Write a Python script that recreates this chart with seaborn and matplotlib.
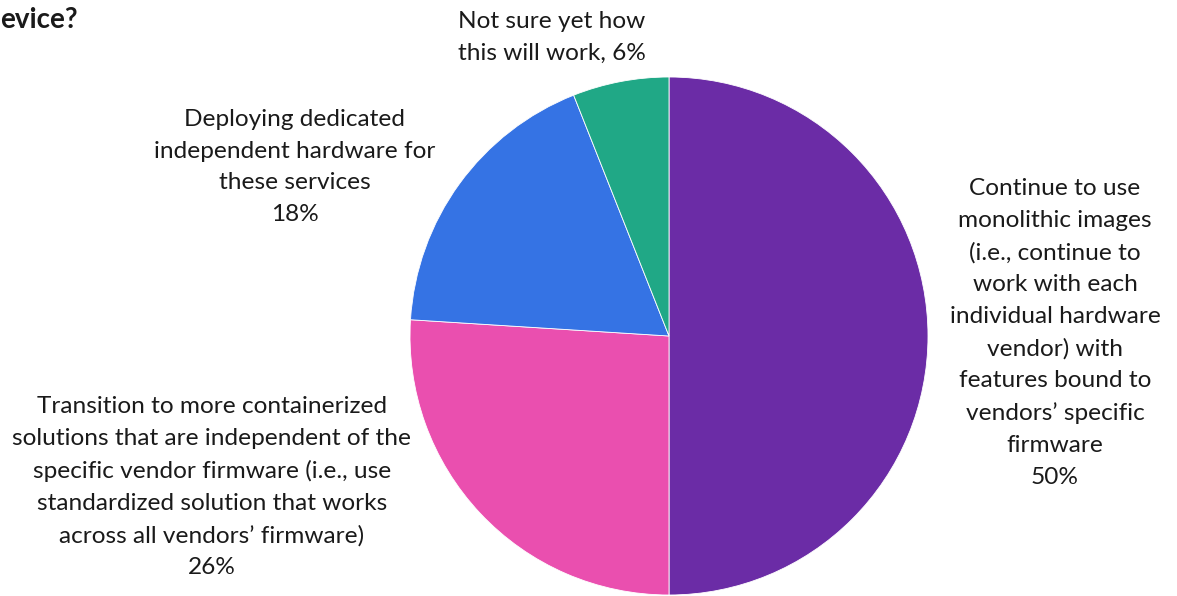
import matplotlib
matplotlib.use("Agg")
import matplotlib.pyplot as plt
import seaborn as sns

# Survey responses, clockwise from 12 o'clock
categories = [
    "Continue to use\nmonolithic images\n(i.e., continue to\nwork with each\nindividual hardware\nvendor) with\nfeatures bound to\nvendors\u2019 specific\nfirmware",
    "Transition to more containerized\nsolutions that are independent of the\nspecific vendor firmware (i.e., use\nstandardized solution that works\nacross all vendors\u2019 firmware)",
    "Deploying dedicated\nindependent hardware for\nthese services",
    "Not sure yet how\nthis will work",
]
shares = [50, 26, 18, 6]
colors = ["#6B2CA6", "#EA4FAF", "#3573E4", "#20A886"]
title_text = "evice?"

sns.set_theme(style="white")
plt.rcParams["font.family"] = ["Lato", "DejaVu Sans"]

W, H = 1177, 596
fig = plt.figure(figsize=(W / 100, H / 100), dpi=100)
ax = fig.add_axes([0, 0, 1, 1])

cx, cy, r = 669, H - 336, 259
ax.pie(
    shares,
    colors=colors,
    startangle=90,
    counterclock=False,
    center=(cx, cy),
    radius=r,
    frame=True,
    wedgeprops=dict(edgecolor="white", linewidth=0.6),
)
ax.set_xlim(0, W)
ax.set_ylim(0, H)
ax.set_aspect("equal")
ax.axis("off")

txt = dict(ha="center", va="center", fontsize=17.6, color="#1a1a1a", linespacing=1.63)

# label block centres (x, y from top)
ax.text(1055, H - 333, f"{categories[0]}\n{shares[0]}%", **txt)
ax.text(212, H - 487, f"{categories[1]}\n{shares[1]}%", **txt)
ax.text(295, H - 167, f"{categories[2]}\n{shares[2]}%", **txt)
ax.text(552, H - 37, f"{categories[3]}, {shares[3]}%", **txt)

ax.text(0, H - 20, title_text, ha="left", va="center", fontsize=20,
        fontweight="bold", color="#1a1a1a")

fig.savefig("out.png", dpi=100, facecolor="white")
